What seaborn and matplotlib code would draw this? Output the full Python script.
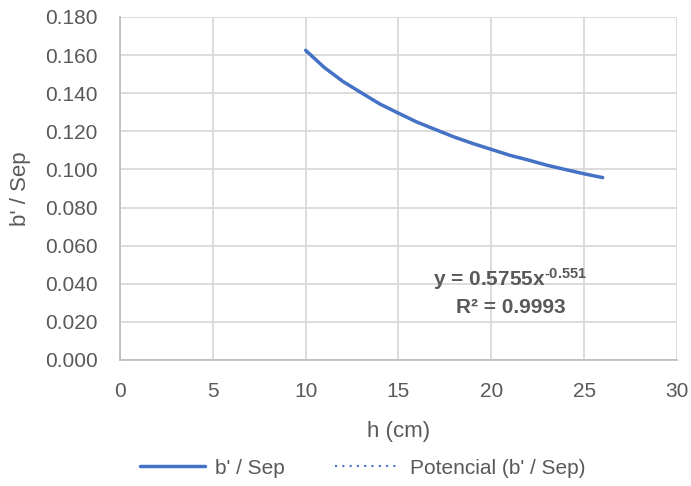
import numpy as np
import pandas as pd
import seaborn as sns
import matplotlib.pyplot as plt

# data
h_cm = [10, 11, 12, 13, 14, 15, 16, 17, 18, 19, 20, 21, 22, 23, 24, 25, 26]
b_sep = [0.1625, 0.1535, 0.1462, 0.1402, 0.1343, 0.1295, 0.1248, 0.1209, 0.1170,
         0.1136, 0.1105, 0.1074, 0.1049, 0.1022, 0.0999, 0.0977, 0.0957]

df = pd.DataFrame({"h": h_cm, "b": b_sep})

sns.set_theme(style="white")
plt.rcParams['font.family'] = ['Liberation Sans', 'DejaVu Sans']
plt.rcParams['mathtext.fontset'] = 'custom'
plt.rcParams['mathtext.rm'] = 'Liberation Sans:bold'
plt.rcParams['mathtext.default'] = 'rm'

fig = plt.figure(figsize=(6.91, 4.86), dpi=100)
ax = fig.add_axes([0.1737, 0.2593, 0.806, 0.7058])

sns.lineplot(data=df, x="h", y="b", ax=ax, color="#4472C4", linewidth=2.5,
             label="b' / Sep")

# power trendline fitted on the data
k, lna = np.polyfit(np.log(df["h"]), np.log(df["b"]), 1)
xs = np.linspace(min(h_cm), max(h_cm), 100)
ax.plot(xs, np.exp(lna) * xs ** k, color="#4472C4", linewidth=1.5,
        linestyle=(0, (1, 2.5)), label="Potencial (b' / Sep)")

ax.set_xlim(0, 30)
ax.set_ylim(0, 0.18)
ax.set_xticks(range(0, 31, 5))
ax.set_yticks(np.arange(0, 0.181, 0.02))
ax.yaxis.set_major_formatter(plt.FormatStrFormatter("%.3f"))
ax.grid(True, color="#d9d9d9", linewidth=1.3)
ax.spines["top"].set_visible(False)
ax.spines["right"].set_visible(False)
for s in ["left", "bottom"]:
    ax.spines[s].set_color("#bfbfbf")
    ax.spines[s].set_linewidth(1.3)
ax.tick_params(axis="both", colors="#595959", labelsize=15, length=0)
ax.tick_params(axis="x", pad=16)
ax.tick_params(axis="y", pad=16)
ax.set_xlabel("h (cm)", fontsize=16, color="#595959", labelpad=14)
ax.set_ylabel("b' / Sep", fontsize=16, color="#595959", labelpad=10)

# equation label of the trendline (hyphen instead of math minus, like Excel)
ax.text(21.03, 0.0425, "y = 0.5755x$^{\u2010 0.551}$".replace("\u2010 ", "\u2010"),
        ha="center", va="center", fontsize=15, fontweight="bold", color="#595959")
ax.text(21.03, 0.0275, "R² = 0.9993", ha="center", va="center",
        fontsize=15, fontweight="bold", color="#595959")

ax.get_legend().remove()
handles, labels = ax.get_legend_handles_labels()
fig.legend(handles, labels, loc="center", bbox_to_anchor=(0.525, 0.037), ncol=2,
           frameon=False, fontsize=15, handlelength=3.1, columnspacing=2.4,
           handletextpad=0.5, labelcolor="#595959")

fig.savefig("out.png", dpi=100)
